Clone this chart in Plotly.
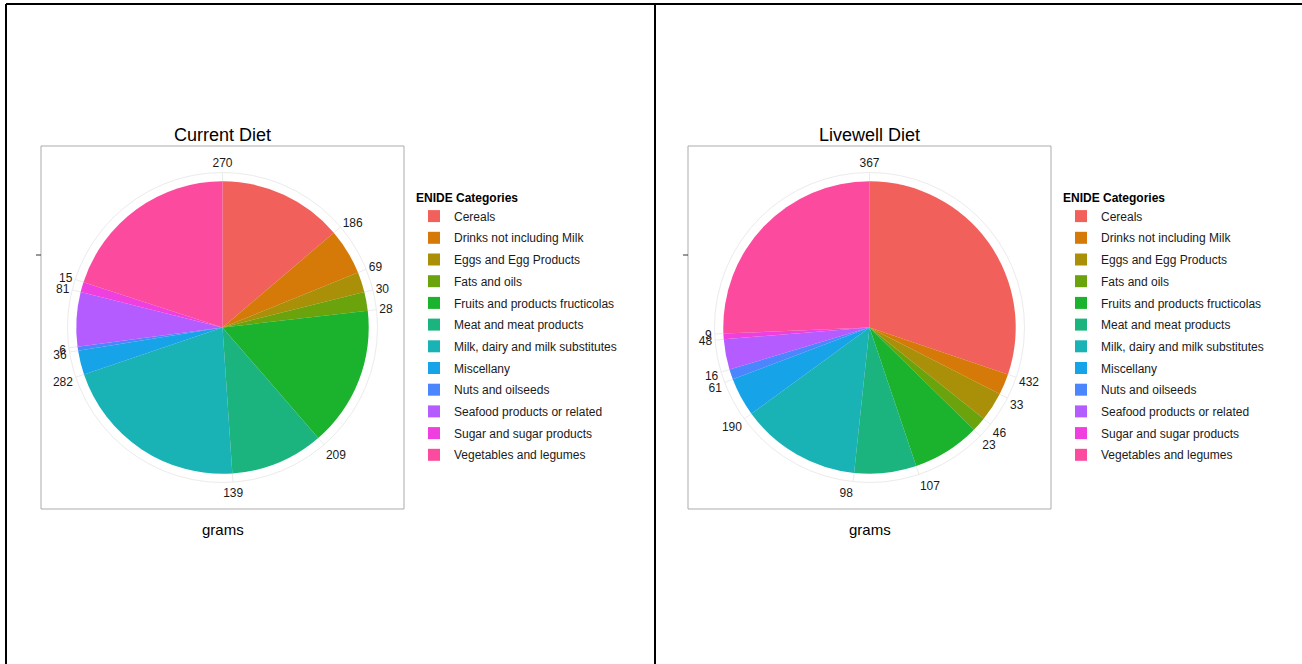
import numpy as np
import plotly.graph_objects as go

# ENIDE food categories (legend order) and grams per diet
categories = [
    "Cereals",
    "Drinks not including Milk",
    "Eggs and Egg Products",
    "Fats and oils",
    "Fruits and products fructicolas",
    "Meat and meat products",
    "Milk, dairy and milk substitutes",
    "Miscellany",
    "Nuts and oilseeds",
    "Seafood products or related",
    "Sugar and sugar products",
    "Vegetables and legumes",
]
current_grams = [186, 69, 30, 28, 209, 139, 282, 36, 6, 81, 15, 270]
livewell_grams = [432, 33, 46, 23, 107, 98, 190, 61, 16, 48, 9, 367]

colors = [
    "#F2605C", "#D57A08", "#A99008", "#6BA30C", "#1BB22D", "#1BB47E",
    "#19B3B6", "#17A3E8", "#4C86FF", "#B45CFF", "#EF3FDE", "#FC4B9E",
]

W, H = 1302, 664
FONT = "Liberation Sans, Arial, sans-serif"
GRID = "#EBEBEB"


def px(x):
    return x / W


def py(y):
    return 1 - y / H


fig = go.Figure()


def add_pie(values, polar, legend):
    values = np.array(values, dtype=float)
    total = values.sum()
    ends = np.cumsum(values)
    for name, v, end, c in zip(categories, values, ends, colors):
        fig.add_trace(go.Barpolar(
            r=[1],
            theta=[(end - v / 2) / total * 360],
            width=[v / total * 360],
            base=0,
            name=name,
            marker=dict(color=c, line=dict(width=0)),
            subplot=polar,
            legend=legend,
            legendgroup=name,
            hovertemplate=f"{name}: {int(v)} g<extra></extra>",
        ))
    # tick labels sit at the end of each slice (like ggplot's coord_polar)
    return dict(
        tickvals=list(ends / total * 360),
        ticktext=[str(int(v)) for v in values],
    )


left_ticks = add_pie(current_grams, "polar", "legend")
right_ticks = add_pie(livewell_grams, "polar2", "legend2")

R = 155  # polar radius in px
centers = [(222.5, 327.5), (869.5, 327.5)]


def polar_layout(cx, cy, ticks):
    return dict(
        domain=dict(x=[px(cx - R), px(cx + R)], y=[py(cy + R), py(cy - R)]),
        bgcolor="white",
        bargap=0,
        hole=0,
        radialaxis=dict(visible=False, range=[0, 1.06]),
        angularaxis=dict(
            direction="clockwise",
            rotation=90,
            tickmode="array",
            tickvals=ticks["tickvals"],
            ticktext=ticks["ticktext"],
            ticks="",
            showline=True,
            linecolor=GRID,
            linewidth=1,
            gridcolor=GRID,
            gridwidth=1,
            tickfont=dict(size=12, color="#1A1A1A", family=FONT),
        ),
    )


legend_style = dict(
    font=dict(size=12, color="#1A1A1A", family=FONT),
    title=dict(text="<b>ENIDE Categories</b>", font=dict(size=12, color="#000000")),
    traceorder="grouped",
    tracegroupgap=2.7,
    xanchor="left",
    yanchor="top",
    bgcolor="rgba(0,0,0,0)",
)

fig.update_layout(
    width=W,
    height=H,
    margin=dict(l=0, r=0, t=0, b=0),
    paper_bgcolor="white",
    font=dict(family=FONT, color="#1A1A1A"),
    polar=polar_layout(*centers[0], left_ticks),
    polar2=polar_layout(*centers[1], right_ticks),
    legend=dict(x=px(414), y=py(186), **legend_style),
    legend2=dict(x=px(1061), y=py(186), **legend_style),
)

# panel borders, titles, axis titles
titles = ["Current Diet", "Livewell Diet"]
panel_left = [41, 688]
for (cx, cy), t, xl in zip(centers, titles, panel_left):
    fig.add_shape(type="rect", xref="paper", yref="paper",
                  x0=px(xl), x1=px(xl + 363), y0=py(509), y1=py(146),
                  line=dict(color="#ABABAB", width=1))
    fig.add_shape(type="line", xref="paper", yref="paper",
                  x0=px(xl - 5), x1=px(xl), y0=py(255), y1=py(255),
                  line=dict(color="#333333", width=1))
    fig.add_annotation(text=t, x=px(cx), y=py(135), xref="paper", yref="paper",
                       xanchor="center", yanchor="middle",
                       showarrow=False, font=dict(size=18, color="#000000"))
    fig.add_annotation(text="grams", x=px(cx), y=py(529), xref="paper", yref="paper",
                       xanchor="center", yanchor="middle",
                       showarrow=False, font=dict(size=15, color="#000000"))

# outer frame lines
for x0, y0, x1, y1 in [(6, 4, W, 4), (6, 4, 6, H), (655, 4, 655, H)]:
    fig.add_shape(type="line", xref="paper", yref="paper",
                  x0=px(x0), x1=px(x1), y0=py(y0), y1=py(y1),
                  line=dict(color="#000000", width=2))

fig.write_html(
    "out.html",
    config={"displayModeBar": False},
    post_script="document.body.style.margin = '0';",
)
